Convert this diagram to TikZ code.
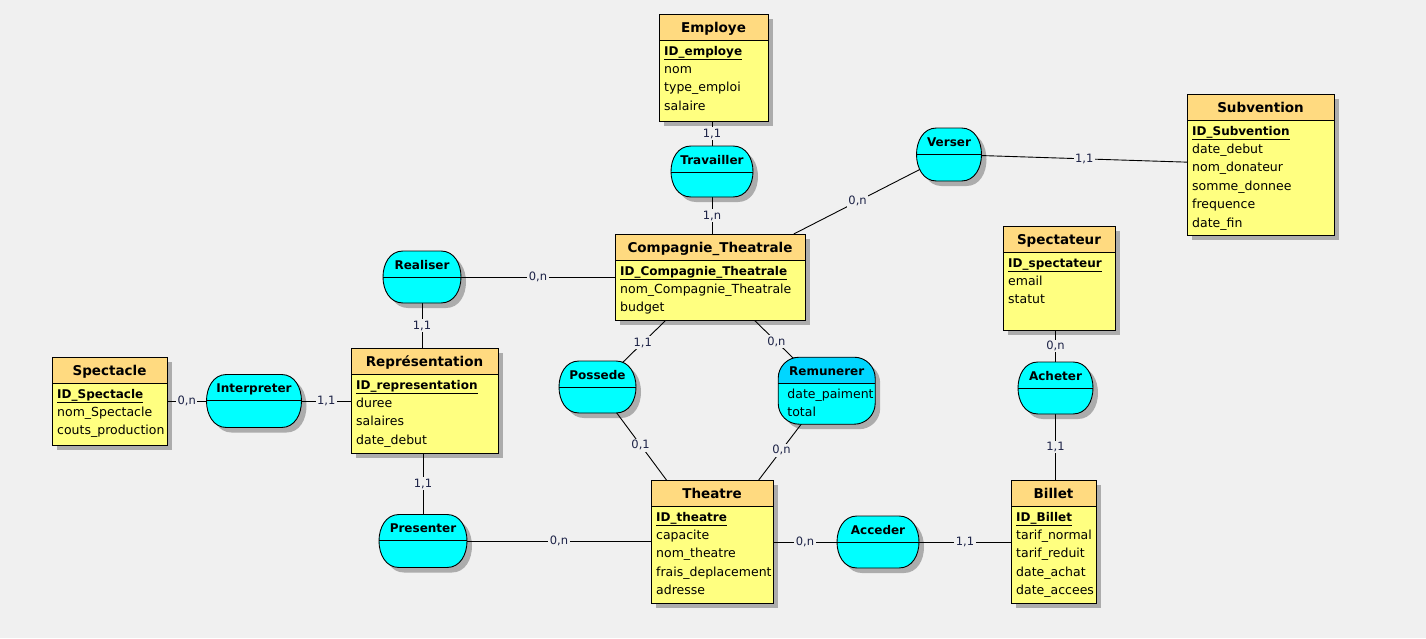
\documentclass[tikz,border=0pt]{standalone}
\usepackage{fontspec}
\setmainfont{DejaVu Sans}
\usetikzlibrary{calc,shapes.geometric}

\definecolor{bg}{RGB}{240,240,240}
\definecolor{headc}{RGB}{255,218,128}
\definecolor{bodyc}{RGB}{255,255,128}
\definecolor{relc}{RGB}{0,255,255}
\definecolor{relhead}{RGB}{0,214,255}
\definecolor{shadowc}{RGB}{172,172,172}
\definecolor{cardc}{RGB}{28,34,70}

\tikzset{
  anchorbox/.style={rectangle, inner sep=0pt, outer sep=0pt},
  relanchor/.style={ellipse, inner sep=0pt, outer sep=0pt},
  link/.style={draw=black, line width=0.9pt},
  outline/.style={draw=black, line width=0.9pt},
  card/.style={fill=bg, text=cardc, inner sep=1.5pt, font=\fontsize{11.5}{13}\selectfont},
  enttitle/.style={font=\fontsize{13.5}{16}\selectfont\bfseries, inner sep=0pt, anchor=base},
  reltitle/.style={font=\fontsize{12}{14}\selectfont\bfseries, inner sep=0pt, anchor=base},
  attrs/.style={font=\fontsize{12.5}{18.4}\selectfont, inner sep=0pt, anchor=base west},
}

% identifier attribute: bold and underlined
\newcommand\idattr[1]{{\fontsize{12}{18.4}\selectfont\bfseries\underline{#1}}}

% ---------- entities ----------
% #1 name, #2 left, #3 top, #4 width, #5 height
\newcommand\entdef[5]{%
  \node[anchorbox, anchor=north west, minimum width=#4pt, minimum height=#5pt] (#1) at (#2,#3) {};}
\newcommand\entshadow[1]{%
  \fill[shadowc] ([shift={(5pt,-5pt)}]#1.north west) rectangle ([shift={(5pt,-5pt)}]#1.south east);}
% #1 name, #2 title, #3 attribute rows
\newcommand\entdraw[3]{%
  \fill[bodyc] (#1.north west) rectangle (#1.south east);
  \fill[headc] (#1.north west) rectangle ([yshift=-26pt]#1.north east);
  \draw[outline] ([yshift=-26pt]#1.north west) -- ([yshift=-26pt]#1.north east);
  \draw[outline] (#1.north west) rectangle (#1.south east);
  \node[enttitle] (#1-title) at ([yshift=-18.5pt]#1.north) {#2};
  \node[attrs] (#1-attrs) at ([shift={(5pt,-41pt)}]#1.north west)
    {\begin{tabular}[t]{@{}l@{}}#3\end{tabular}};}

% ---------- relations ----------
\def\rcx{20}      % horizontal reach of the rounded ends
% geometry: cx, cy, width, height, corner radius of the boxed variant
\newcommand\relcalc[5]{%
  \pgfmathsetmacro\rL{#1-#3/2}\pgfmathsetmacro\rR{#1+#3/2}%
  \pgfmathsetmacro\rT{#2-#4/2}\pgfmathsetmacro\rB{#2+#4/2}%
  \pgfmathsetmacro\rY{#5}\pgfmathsetmacro\rX{#1}}
\newcommand\usegeo[1]{\expandafter\expandafter\expandafter\relcalc\csname geo-#1\endcsname}
% #1 name, #2 cx, #3 cy, #4 w, #5 h, #6 corner radius
\newcommand\reldef[6]{%
  \node[relanchor, minimum width=#4pt, minimum height=#5pt] (#1) at (#2,#3) {};
  \expandafter\def\csname geo-#1\endcsname{{#2}{#3}{#4}{#5}{#6}}}
% oval outline: flat top and bottom, bulging ends
\newcommand\ovalshape[1]{%
  \path[#1] (\rL+\rcx,\rT) -- (\rR-\rcx,\rT)
    .. controls (\rR+0.3333*\rcx,\rT) and (\rR+0.3333*\rcx,\rB) .. (\rR-\rcx,\rB)
    -- (\rL+\rcx,\rB)
    .. controls (\rL-0.3333*\rcx,\rB) and (\rL-0.3333*\rcx,\rT) .. (\rL+\rcx,\rT) -- cycle;}
% rounded box outline (relation with attributes)
\newcommand\boxshape[1]{%
  \path[#1] (\rL+\rY,\rT) -- (\rR-\rY,\rT)
    .. controls (\rR-0.4477*\rY,\rT) and (\rR,\rT+0.4477*\rY) .. (\rR,\rT+\rY)
    -- (\rR,\rB-\rY)
    .. controls (\rR,\rB-0.4477*\rY) and (\rR-0.4477*\rY,\rB) .. (\rR-\rY,\rB)
    -- (\rL+\rY,\rB)
    .. controls (\rL+0.4477*\rY,\rB) and (\rL,\rB-0.4477*\rY) .. (\rL,\rB-\rY)
    -- (\rL,\rT+\rY)
    .. controls (\rL,\rT+0.4477*\rY) and (\rL+0.4477*\rY,\rT) .. (\rL+\rY,\rT) -- cycle;}
\newcommand\relshadow[1]{\usegeo{#1}\ovalshape{fill=shadowc, shift={(5pt,-5pt)}}}
% #1 name, #2 title
\newcommand\reldraw[2]{%
  \usegeo{#1}%
  \ovalshape{fill=relc}
  \begin{scope}
    \ovalshape{clip}
    \draw[outline] (\rL-2,\rT+26) -- (\rR+2,\rT+26);
  \end{scope}
  \ovalshape{outline}
  \node[reltitle] (#1-title) at (\rX,\rT+18.3) {#2};}

\begin{document}
\begin{tikzpicture}[x=1pt, y=-1pt]
\useasboundingbox (0,0) rectangle (1426,638);
\fill[bg] (0,0) rectangle (1426,638);

% entity frames
\entdef{employe}{659}{14}{109}{107}
\entdef{subvention}{1187}{94}{147}{141}
\entdef{compagnie}{615}{234}{190}{86}
\entdef{spectateur}{1003}{226}{112}{104}
\entdef{spectacle}{52}{357}{115}{88}
\entdef{representation}{351}{348}{147}{105}
\entdef{theatre}{651}{480}{122}{123}
\entdef{billet}{1011}{480}{85}{123}

% relation frames
\reldef{travailler}{712}{171.5}{82}{51}{25.5}
\reldef{verser}{949}{154.5}{65}{53}{26.5}
\reldef{realiser}{422}{277}{78}{52}{26}
\reldef{interpreter}{254}{401}{95}{53}{26.5}
\reldef{possede}{597.5}{387}{77}{52}{26}
\reldef{remunerer}{826.7}{390.7}{97}{67}{21}
\reldef{acheter}{1055.5}{388}{75}{52}{26}
\reldef{presenter}{423}{541}{88}{53}{26.5}
\reldef{acceder}{878}{542}{82}{52}{26}

% shadows
\foreach \e in {employe,subvention,compagnie,spectateur,spectacle,representation,theatre,billet}
  {\entshadow{\e}}
\relshadow{travailler}\relshadow{verser}\relshadow{realiser}
\relshadow{interpreter}\relshadow{possede}
\relshadow{acheter}\relshadow{presenter}\relshadow{acceder}
\usegeo{remunerer}\boxshape{fill=shadowc, shift={(5pt,-5pt)}}

% links and cardinalities
\draw[link] (travailler) -- node[card] (c1) {1,1} (travailler |- employe.south);
\draw[link] (travailler) -- node[card] (c2) {1,n} (travailler |- compagnie.north);
\draw[link] (verser) -- node[card] (c3) {0,n} (compagnie);
\draw[link] (verser) -- node[card] (c4) {1,1} (subvention);
\draw[link] (realiser) -- node[card] (c5) {0,n} (realiser -| compagnie.west);
\draw[link] (realiser) -- node[card] (c6) {1,1} (realiser |- representation.north);
\draw[link] (interpreter) -- node[card] (c7) {0,n} (interpreter -| spectacle.east);
\draw[link] (interpreter) -- node[card] (c8) {1,1} (interpreter -| representation.west);
\draw[link] (possede) -- node[card] (c9) {1,1} (compagnie);
\draw[link] (possede) -- node[card] (c10) {0,1} (theatre);
\draw[link] (remunerer) -- node[card] (c11) {0,n} (compagnie);
\draw[link] (remunerer) -- node[card] (c12) {0,n} (theatre);
\draw[link] (presenter) -- node[card] (c13) {1,1} (presenter |- representation.south);
\draw[link] (presenter) -- node[card] (c14) {0,n} (presenter -| theatre.west);
\draw[link] (acceder) -- node[card] (c15) {0,n} (acceder -| theatre.east);
\draw[link] (acceder) -- node[card] (c16) {1,1} (acceder -| billet.west);
\draw[link] (acheter) -- node[card] (c17) {0,n} (acheter |- spectateur.south);
\draw[link] (acheter) -- node[card] (c18) {1,1} (acheter |- billet.north);

% entities
\entdraw{employe}{Employe}{\idattr{ID\_employe}\\ nom\\ type\_emploi\\ salaire}
\entdraw{subvention}{Subvention}{\idattr{ID\_Subvention}\\ date\_debut\\ nom\_donateur\\ somme\_donnee\\ frequence\\ date\_fin}
\entdraw{compagnie}{Compagnie\_Theatrale}{\idattr{ID\_Compagnie\_Theatrale}\\ nom\_Compagnie\_Theatrale\\ budget}
\entdraw{spectateur}{Spectateur}{\idattr{ID\_spectateur}\\ email\\ statut}
\entdraw{spectacle}{Spectacle}{\idattr{ID\_Spectacle}\\ nom\_Spectacle\\ couts\_production}
\entdraw{representation}{Représentation}{\idattr{ID\_representation}\\ duree\\ salaires\\ date\_debut}
\entdraw{theatre}{Theatre}{\idattr{ID\_theatre}\\ capacite\\ nom\_theatre\\ frais\_deplacement\\ adresse}
\entdraw{billet}{Billet}{\idattr{ID\_Billet}\\ tarif\_normal\\ tarif\_reduit\\ date\_achat\\ date\_accees}

% relations
\reldraw{travailler}{Travailler}
\reldraw{verser}{Verser}
\reldraw{realiser}{Realiser}
\reldraw{interpreter}{Interpreter}
\reldraw{possede}{Possede}
\reldraw{acheter}{Acheter}
\reldraw{presenter}{Presenter}
\reldraw{acceder}{Acceder}
% relation carrying its own attributes
\usegeo{remunerer}
\boxshape{fill=relc}
\begin{scope}
  \boxshape{clip}
  \fill[relhead] (\rL,\rT) rectangle (\rR,\rT+26);
\end{scope}
\draw[outline] (\rL,\rT+26) -- (\rR,\rT+26);
\boxshape{outline}
\node[reltitle] (remunerer-title) at (\rX,\rT+18.3) {Remunerer};
\node[attrs] (remunerer-attrs) at (\rL+9,\rT+41)
  {\begin{tabular}[t]{@{}l@{}}date\_paiment\\ total\end{tabular}};
\end{tikzpicture}
\end{document}
